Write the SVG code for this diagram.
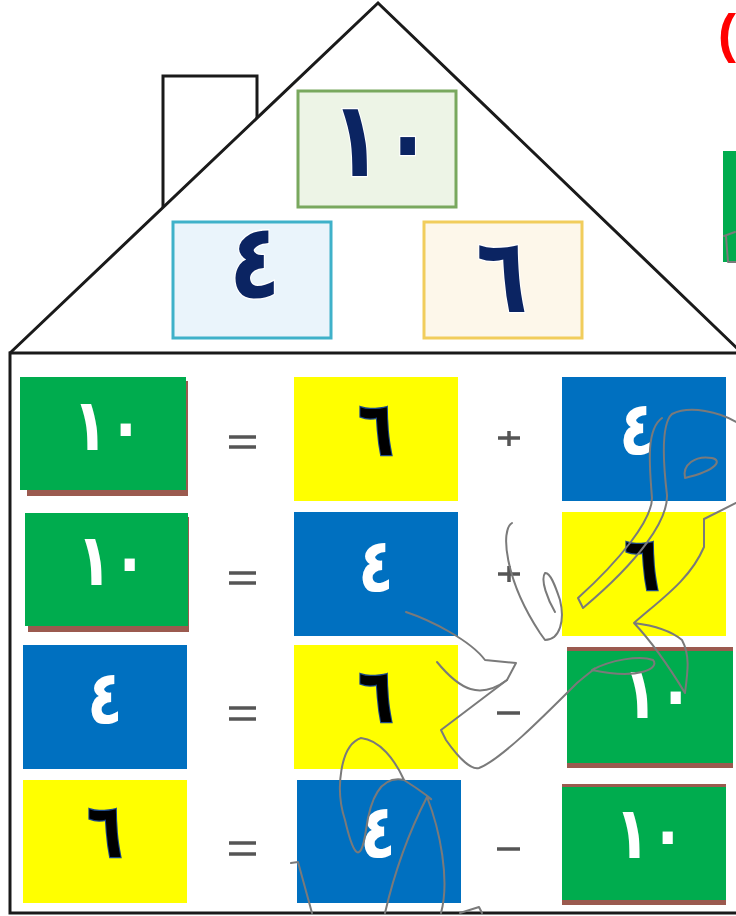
<svg xmlns="http://www.w3.org/2000/svg" width="736" height="916" viewBox="0 0 736 916">
<style>
.line{fill:none;stroke:#1a1a1a;stroke-width:3;stroke-linejoin:miter}
.num{font-family:"DejaVu Sans","Noto Sans",sans-serif;font-weight:bold;text-anchor:middle}
.big{font-size:84px;fill:#0b2462;stroke:#ffffff;stroke-width:2;paint-order:stroke}
.w{font-size:58px;fill:#ffffff}
.k{font-size:58px;fill:#000000;stroke:#1f4a8a;stroke-width:2;paint-order:stroke}
.sp{letter-spacing:12px}
.g{fill:#00ac4e}.y{fill:#ffff00}.b{fill:#0070c0}.sh{fill:#9b5a4f}
.op{stroke:#555555;stroke-width:3.5;fill:none}
.wm{fill:none;stroke:#7a7a7a;stroke-width:2;stroke-linejoin:round;stroke-linecap:round}
</style>
<rect width="736" height="916" fill="#ffffff"/>
<g id="roof">
<path class="line" d="M10,353 L378,3 L742,353"/>
<path class="line" d="M163,207 L163,76 L257,76 L257,118"/>
</g>
<g id="house"><path class="line" d="M738,353 L10,353 L10,913 L738,913"/></g>
<g id="top-10"><rect x="298" y="91" width="158" height="116" fill="#edf4e6" stroke="#79a85e" stroke-width="3"/><text class="num big sp" transform="translate(382,176) scale(1,1.25)">١٠</text></g>
<g id="top-4"><rect x="173" y="222" width="158" height="116" fill="#eaf4fb" stroke="#3fb1c9" stroke-width="3"/><text class="num big" transform="translate(255,298) scale(1,1.25)">٤</text></g>
<g id="top-6"><rect x="424" y="222" width="158" height="116" fill="#fdf7ea" stroke="#f1cd5c" stroke-width="3"/><text class="num big" transform="translate(502,312) scale(1,1.25)">٦</text></g>
<g id="edge-right"><rect x="723" y="151" width="13" height="111" class="g"/><text x="718" y="52" font-family="Liberation Sans,sans-serif" font-size="54" font-weight="bold" fill="#ff0000">(</text></g>
<g id="r1c1"><rect class="sh" x="27" y="381" width="161" height="115"/><rect class="g" x="20" y="377" width="166" height="113"/><text class="num w sp" transform="translate(108,450) scale(1,1.25)">١٠</text></g>
<g id="r1c2"><rect class="y" x="294" y="377" width="164" height="124"/><text class="num k" transform="translate(376,455) scale(1,1.3)">٦</text></g>
<g id="r1c3"><rect class="b" x="562" y="377" width="164" height="124"/><text class="num w" transform="translate(637,455) scale(1,1.3)">٤</text></g>
<g id="r2c1"><rect class="sh" x="28" y="517" width="161" height="115"/><rect class="g" x="25" y="513" width="163" height="113"/><text class="num w sp" transform="translate(112,585) scale(1,1.25)">١٠</text></g>
<g id="r2c2"><rect class="b" x="294" y="512" width="164" height="124"/><text class="num w" transform="translate(376,592) scale(1,1.3)">٤</text></g>
<g id="r2c3"><rect class="y" x="562" y="512" width="164" height="124"/><text class="num k" transform="translate(642,590) scale(1,1.3)">٦</text></g>
<g id="r3c1"><rect class="b" x="23" y="645" width="164" height="124"/><text class="num w" transform="translate(105,724) scale(1,1.3)">٤</text></g>
<g id="r3c2"><rect class="y" x="294" y="645" width="164" height="124"/><text class="num k" transform="translate(376,722) scale(1,1.3)">٦</text></g>
<g id="r3c3"><rect class="sh" x="567" y="647" width="166" height="121"/><rect class="g" x="567" y="651" width="166" height="112"/><text class="num w sp" transform="translate(658,718) scale(1,1.25)">١٠</text></g>
<g id="r4c1"><rect class="y" x="23" y="780" width="164" height="123"/><text class="num k" transform="translate(105,857) scale(1,1.3)">٦</text></g>
<g id="r4c2"><rect class="b" x="297" y="780" width="164" height="123"/><text class="num w" transform="translate(378,858) scale(1,1.3)">٤</text></g>
<g id="r4c3"><rect class="sh" x="562" y="784" width="164" height="121"/><rect class="g" x="562" y="787" width="164" height="113"/><text class="num w sp" transform="translate(650,858) scale(1,1.25)">١٠</text></g>
<g id="operators">
<path class="op" d="M229,437 H256 M229,447 H256"/><path class="op" d="M498,438 H520 M509,431 V446" stroke-width="2"/>
<path class="op" d="M229,573 H256 M229,583 H256"/><path class="op" d="M498,574 H520 M509,566 V582" stroke-width="2"/>
<path class="op" d="M229,708 H256 M229,719 H256"/><path class="op" d="M497,713 H520"/>
<path class="op" d="M229,843 H256 M229,854 H256"/><path class="op" d="M497,849 H520"/>
</g>
<g id="watermark">
<path class="wm" d="M738,423 C720,412 690,405 672,414 C660,425 664,470 667,495 C668,520 640,560 583,608 L578,598 C620,560 652,520 652,498 C650,470 645,430 662,418"/>
<path class="wm" d="M685,478 C682,465 695,455 712,458 C722,460 718,470 685,478 Z"/>
<path class="wm" d="M736,503 L704,519 L704,547 C690,580 660,600 634,623 C650,640 665,660 685,693 C688,670 690,655 682,640 C670,630 650,625 634,623"/>
<path class="wm" d="M512,523 C500,530 505,580 540,633 L545,640 C560,640 565,620 560,600 C555,585 550,572 545,573 C540,580 548,600 555,612"/>
<path class="wm" d="M406,612 C430,620 470,640 485,660 L516,663 L507,680 L441,730 L446,740 C460,760 472,770 479,768 C500,760 540,720 577,683 C590,672 600,665 592,670 C610,660 640,655 653,660 C660,668 640,680 592,670"/>
<path class="wm" d="M437,662 C460,690 480,700 507,680"/>
<path class="wm" d="M404,780 C395,760 380,740 361,738 C340,745 335,790 345,820 C352,850 360,870 366,830 C370,800 380,775 404,780 C420,790 440,805 427,797 C440,830 450,880 441,913"/>
<path class="wm" d="M427,797 C410,830 395,870 385,913"/>
<path class="wm" d="M291,863 L298,862 L312,913"/>
<path class="wm" d="M460,913 L479,907 L482,913"/>
<path class="wm" d="M724,236 L735,232 M726,236 L728,262 L736,262"/>
</g>
</svg>
